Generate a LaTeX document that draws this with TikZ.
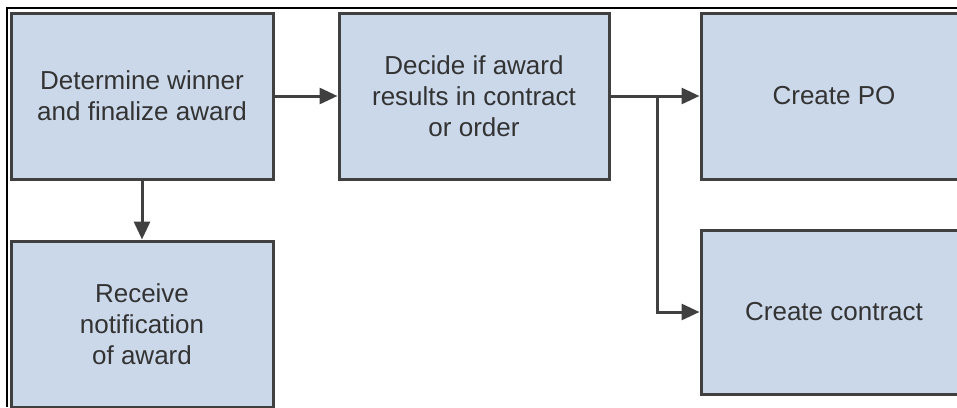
\documentclass[tikz,border=0pt]{standalone}
\usepackage{fontspec}
\setmainfont{Liberation Sans}
\usetikzlibrary{arrows.meta}
\definecolor{boxfill}{HTML}{CBD8EA}
\definecolor{boxline}{HTML}{404040}
\definecolor{txt}{HTML}{333333}
\begin{document}
\begin{tikzpicture}[x=1pt,y=-1pt,
  box/.style={draw=boxline, fill=boxfill, line width=3pt, minimum width=262pt,
    minimum height=166pt, inner sep=0pt, align=center, text=txt,
    font=\fontsize{26}{31}\selectfont},
  conn/.style={draw=boxline, line width=3pt, -{Triangle[length=18pt,width=16pt]}}]
\useasboundingbox (0,0) rectangle (957,407);
\draw[line width=1.5pt] (7,407) -- (7,8) -- (957,8);
\node[box] (win) at (142,96) {Determine winner\\and finalize award};
\node[box, minimum width=270pt] (dec) at (474,96) {Decide if award\\results in contract\\or order};
\node[box, minimum width=266pt] (po) at (834,96) {Create PO};
\node[box, minimum width=266pt, minimum height=164pt] (con) at (834,312) {Create contract};
\node[box] (rec) at (142,324) {Receive\\notification\\of award};
\coordinate (jn) at (657,96);
\draw[conn] (win) -- (dec);
\draw[conn] (win) -- (rec);
\draw[conn] (dec) -- (po);
\draw[conn] (jn) |- (con.west);
\end{tikzpicture}
\end{document}
